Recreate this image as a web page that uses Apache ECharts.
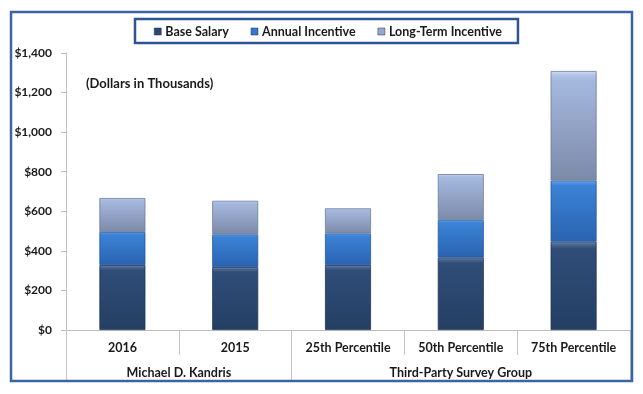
<!DOCTYPE html>
<html>
<head>
<meta charset="utf-8">
<script src="https://cdn.jsdelivr.net/npm/echarts@6/dist/echarts.min.js"></script>
<style>
html,body{margin:0;padding:0;background:#fff;}
#c{width:643px;height:394px;}
</style>
</head>
<body>
<div id="c"></div>
<script>
const categories = ['2016', '2015', '25th Percentile', '50th Percentile', '75th Percentile'];
const groupLabels = ['Michael D. Kandris', 'Third-Party Survey Group'];
const seriesNames = ['Base Salary', 'Annual Incentive', 'Long-Term Incentive'];
const baseSalary = [328, 318, 328, 367, 446];
const annualIncentive = [167, 165, 160, 189, 309];
const longTermIncentive = [172, 170, 127, 232, 554];
const yTicks = [0, 200, 400, 600, 800, 1000, 1200, 1400];

const FONT = 'Lato, "Open Sans", sans-serif';
function grad(c0, c1, c2, c3) {
  return new echarts.graphic.LinearGradient(0, 0, 0, 1, [
    { offset: 0, color: c0 },
    { offset: 0.035, color: c1 },
    { offset: 0.08, color: c2 },
    { offset: 1, color: c3 }
  ]);
}
const fills = [
  { fill: grad('#6f86aa', '#4a6690', '#2f4d78', '#253f63'), border: '#1f3556', legend: '#2b4870' },
  { fill: grad('#8fc0f5', '#4f95e6', '#3b82d6', '#2a63b0'), border: '#24599f', legend: '#3479cc' },
  { fill: grad('#d3def2', '#b1c3e6', '#a5b8de', '#7c8aa9'), border: '#6e7c9a', legend: '#97a9cf' }
];
const dataSets = [baseSalary, annualIncentive, longTermIncentive];

const chart = echarts.init(document.getElementById('c'), null, { renderer: 'canvas' });
chart.setOption({
  animation: false,
  backgroundColor: '#ffffff',
  graphic: [{
    type: 'rect', silent: true, z: 100,
    shape: { x: 11, y: 12, width: 621, height: 369 },
    style: { fill: 'none', stroke: '#3a64a6', lineWidth: 2.5 }
  }],
  title: {
    text: '(Dollars in Thousands)',
    left: 81, top: 72,
    textStyle: { fontFamily: FONT, fontSize: 13, fontWeight: 'bold', color: '#1a1a1a' }
  },
  legend: {
    data: seriesNames.map((n, i) => ({ name: n, itemStyle: { color: fills[i].legend, borderColor: '#1f2f4a', borderWidth: 0.5 } })),
    left: 135, top: 19,
    padding: [6, 16, 5, 19],
    borderColor: '#2d5596', borderWidth: 2.5,
    itemWidth: 7, itemHeight: 7, itemGap: 22,
    icon: 'rect',
    textStyle: { fontFamily: FONT, fontSize: 12.5, fontWeight: 'bold', color: '#1a1a1a', padding: [0, 0, 0, -1] }
  },
  grid: { left: 66, right: 13, top: 53, bottom: 64, containLabel: false },
  xAxis: [{
    type: 'category',
    data: categories,
    position: 'bottom',
    axisLine: { show: true, lineStyle: { color: '#bdbdbd', width: 1 } },
    axisTick: { show: true, length: 25, lineStyle: { color: '#c4c4c4' } },
    axisLabel: { margin: 11, fontFamily: FONT, fontSize: 12.5, fontWeight: 'bold', color: '#1a1a1a', interval: 0 },
    splitLine: { show: false }
  }, {
    type: 'category',
    data: categories,
    position: 'bottom',
    offset: 25,
    axisLine: { show: false },
    axisTick: { show: true, length: 25, lineStyle: { color: '#c4c4c4' },
      interval: function (i) { return i === 0 || i === 2; } },
    axisLabel: {
      margin: 11,
      interval: function (i) { return i === 0 || i === 3; },
      formatter: function (v, i) {
        return i === 0 ? '{a|' + groupLabels[0] + '}' : '{b|' + groupLabels[1] + '}';
      },
      rich: {
        a: { fontFamily: FONT, fontSize: 12.5, fontWeight: 'bold', color: '#1a1a1a', padding: [0, 0, 0, 113] },
        b: { fontFamily: FONT, fontSize: 12.5, fontWeight: 'bold', color: '#1a1a1a' }
      }
    },
    splitLine: { show: false }
  }],
  yAxis: {
    type: 'value',
    min: yTicks[0], max: yTicks[yTicks.length - 1], interval: 200,
    axisLine: { show: true, lineStyle: { color: '#bdbdbd', width: 1 } },
    axisTick: { show: true, length: 5, lineStyle: { color: '#bdbdbd' } },
    axisLabel: {
      margin: 14, fontFamily: FONT, fontSize: 12, fontWeight: 'bold', color: '#1a1a1a',
      formatter: function (v) { return '$' + v.toLocaleString('en-US'); }
    },
    splitLine: { show: false }
  },
  series: seriesNames.map((n, i) => ({
    name: n,
    type: 'bar',
    stack: 'total',
    barWidth: 46,
    xAxisIndex: 0,
    data: dataSets[i],
    itemStyle: { color: fills[i].fill, borderColor: fills[i].border, borderWidth: 0.8 }
  }))
});
</script>
</body>
</html>
